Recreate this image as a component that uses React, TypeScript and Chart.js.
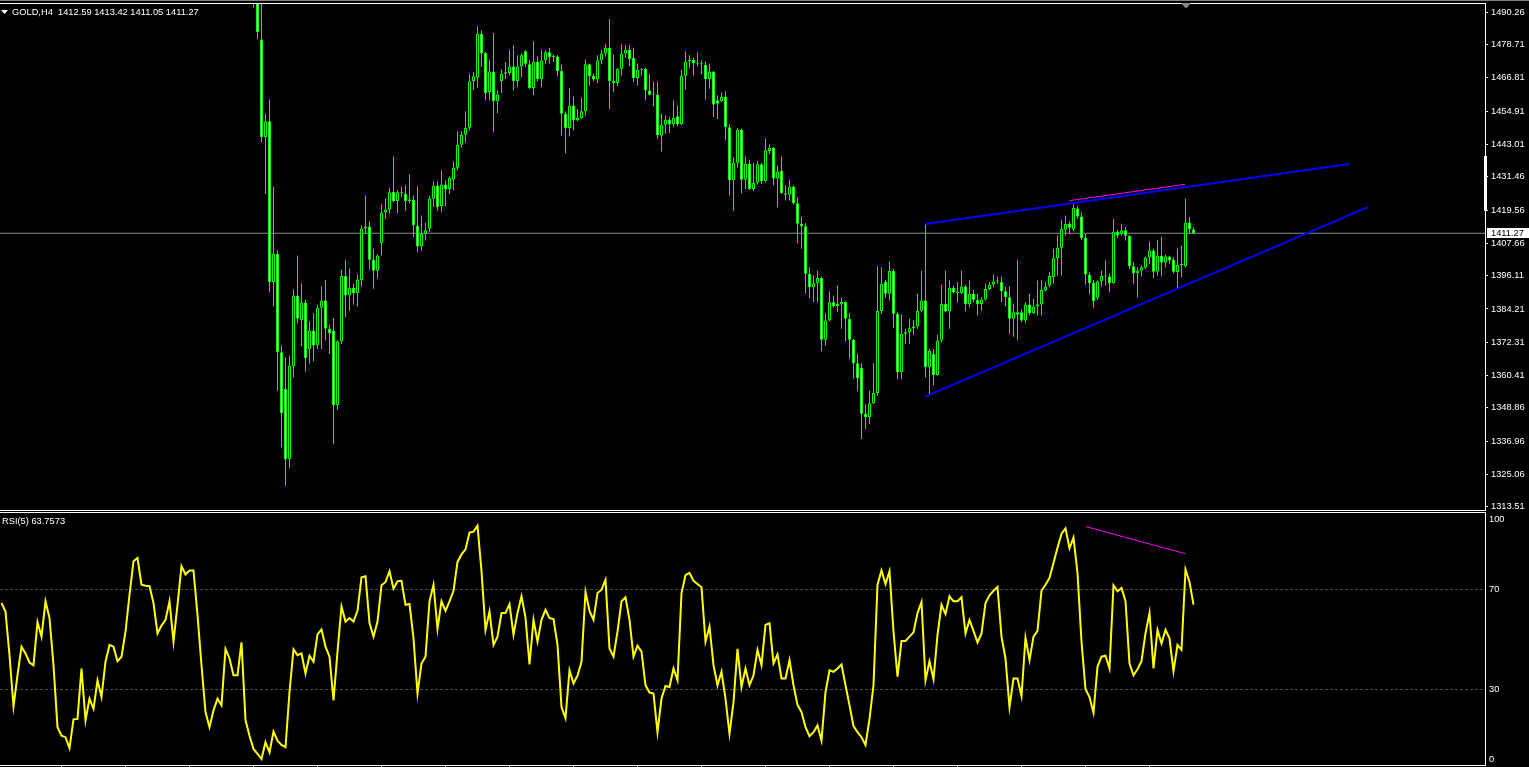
import React, { useEffect, useRef } from 'react';
import { Chart, registerables } from 'chart.js';

Chart.register(...registerables);

// ---------- data ----------
const symbolTitle = 'GOLD,H4  1412.59 1413.42 1411.05 1411.27';
const rsiTitle = 'RSI(5) 63.7573';
const FIRST_BAR = 63; // bar index of the first candle that reaches the visible price range

const opens = [
  1498.0, 1495.0, 1480.5, 1445.7, 1451.3, 1393.8, 1403.9, 1368.7, 1355.6, 1330.5,
  1363.7, 1389.0, 1380.3, 1386.5, 1369.8, 1376.5, 1371.1, 1384.6, 1387.2, 1377.1,
  1376.5, 1349.9, 1372.7, 1396.0, 1389.0, 1391.8, 1389.8, 1394.6, 1413.0, 1413.7,
  1401.8, 1397.9, 1407.7, 1418.7, 1419.7, 1426.1, 1422.8, 1425.9, 1425.4, 1422.8,
  1423.2, 1414.0, 1406.5, 1411.1, 1412.9, 1423.6, 1428.3, 1421.0, 1428.7, 1427.0,
  1430.4, 1434.7, 1442.9, 1446.5, 1449.0, 1465.6, 1466.9, 1482.6, 1475.7, 1461.8,
  1469.1, 1458.5, 1465.7, 1468.3, 1468.6, 1470.9, 1465.7, 1470.9, 1476.3, 1471.7,
  1463.2, 1472.6, 1466.4, 1473.1, 1476.0, 1474.3, 1474.5, 1469.3, 1454.0, 1448.9,
  1456.9, 1451.7, 1452.5, 1454.9, 1471.7, 1467.5, 1466.2, 1473.1, 1475.5, 1477.6,
  1465.7, 1465.0, 1470.1, 1475.5, 1476.9, 1474.0, 1466.8, 1469.7, 1470.0, 1462.3,
  1460.8, 1460.9, 1446.1, 1450.1, 1451.9, 1450.2, 1453.1, 1450.2, 1467.6, 1472.7,
  1473.3, 1472.1, 1471.9, 1471.5, 1466.4, 1469.1, 1458.8, 1458.5, 1460.1, 1449.2,
  1430.2, 1436.5, 1448.3, 1430.4, 1436.1, 1427.1, 1429.3, 1435.9, 1429.9, 1440.7,
  1441.8, 1430.8, 1433.6, 1425.6, 1425.0, 1428.0, 1422.0, 1414.7, 1413.8, 1396.8,
  1392.0, 1393.4, 1395.3, 1373.2, 1380.1, 1386.6, 1385.3, 1385.8, 1386.7, 1380.7,
  1373.2, 1364.8, 1363.1, 1346.7, 1345.5, 1350.5, 1354.2, 1383.5, 1393.9, 1389.6,
  1397.9, 1382.5, 1361.6, 1375.3, 1375.9, 1377.3, 1377.9, 1383.6, 1387.2, 1363.4,
  1368.1, 1360.6, 1372.9, 1386.0, 1383.3, 1391.8, 1390.2, 1389.9, 1392.2, 1386.0,
  1389.6, 1387.5, 1386.0, 1387.6, 1391.3, 1392.9, 1394.0, 1393.8, 1390.5, 1388.4,
  1380.7, 1383.0, 1383.0, 1380.1, 1385.8, 1382.7, 1385.1, 1385.8, 1390.8, 1392.6,
  1395.6, 1402.3, 1406.1, 1412.5, 1414.7, 1412.7, 1420.1, 1417.3, 1409.6, 1396.4,
  1393.6, 1388.2, 1394.1, 1396.0, 1395.8, 1393.4, 1411.8, 1411.1, 1412.3, 1410.4,
  1399.5, 1397.0, 1397.9, 1398.9, 1402.6, 1405.1, 1397.5, 1403.2, 1400.8, 1403.0,
  1401.8, 1397.4, 1399.9, 1399.5, 1415.1, 1412.59,
];

const highs = [
  1503.0, 1497.5, 1493.4, 1454.0, 1459.1, 1427.8, 1405.1, 1371.1, 1366.9, 1367.5,
  1391.2, 1403.3, 1393.4, 1387.5, 1379.8, 1382.7, 1385.8, 1392.2, 1394.6, 1378.6,
  1381.0, 1372.9, 1398.2, 1401.8, 1398.7, 1393.2, 1396.5, 1414.0, 1424.8, 1415.6,
  1405.7, 1403.7, 1421.6, 1423.6, 1427.5, 1438.7, 1426.6, 1428.0, 1428.4, 1432.3,
  1424.8, 1428.0, 1417.6, 1414.9, 1424.8, 1429.8, 1429.8, 1433.7, 1430.1, 1431.6,
  1436.8, 1447.7, 1447.7, 1454.9, 1468.1, 1468.9, 1485.2, 1483.8, 1476.1, 1473.3,
  1482.9, 1462.3, 1469.9, 1472.4, 1476.7, 1478.5, 1474.9, 1475.5, 1476.7, 1473.1,
  1479.9, 1474.5, 1476.7, 1476.7, 1477.6, 1475.2, 1474.9, 1471.7, 1454.9, 1463.1,
  1460.2, 1455.7, 1459.6, 1473.4, 1471.9, 1468.3, 1474.9, 1476.9, 1478.8, 1487.8,
  1475.2, 1470.3, 1478.8, 1478.5, 1478.5, 1477.6, 1471.9, 1470.3, 1470.4, 1468.1,
  1465.3, 1465.3, 1454.0, 1453.4, 1452.8, 1458.8, 1456.9, 1469.7, 1476.3, 1474.9,
  1474.0, 1476.0, 1473.1, 1472.7, 1471.9, 1469.3, 1460.6, 1461.6, 1462.0, 1450.2,
  1438.5, 1448.9, 1448.6, 1438.7, 1437.5, 1436.5, 1437.1, 1436.5, 1445.1, 1443.0,
  1442.1, 1435.5, 1438.7, 1428.4, 1430.4, 1428.4, 1424.2, 1417.3, 1414.9, 1399.1,
  1396.2, 1397.9, 1395.8, 1382.7, 1390.5, 1389.0, 1392.6, 1388.2, 1387.0, 1382.8,
  1373.5, 1368.1, 1364.8, 1350.0, 1355.0, 1364.8, 1399.4, 1399.1, 1394.6, 1401.2,
  1398.5, 1383.0, 1382.2, 1377.1, 1380.7, 1380.3, 1389.6, 1397.9, 1414.4, 1369.9,
  1369.9, 1374.9, 1392.9, 1397.9, 1394.4, 1392.6, 1393.8, 1397.9, 1392.9, 1394.4,
  1391.0, 1389.6, 1388.4, 1393.2, 1393.8, 1396.5, 1395.8, 1395.8, 1392.2, 1392.2,
  1386.0, 1401.8, 1384.2, 1386.6, 1389.6, 1387.8, 1394.4, 1394.4, 1393.8, 1397.3,
  1405.7, 1410.5, 1416.1, 1417.6, 1415.6, 1421.6, 1420.9, 1418.8, 1411.1, 1397.3,
  1394.6, 1394.4, 1397.9, 1401.6, 1396.8, 1416.4, 1412.5, 1414.7, 1413.5, 1410.6,
  1400.9, 1399.1, 1399.7, 1403.0, 1408.1, 1405.7, 1408.9, 1410.0, 1403.7, 1403.2,
  1402.7, 1405.7, 1406.9, 1423.6, 1417.0, 1413.42,
];

const lows = [
  1491.9, 1480.8, 1443.9, 1425.4, 1390.2, 1385.1, 1355.0, 1334.7, 1321.1, 1327.3,
  1359.8, 1379.1, 1370.9, 1361.8, 1364.6, 1365.5, 1369.9, 1369.9, 1372.9, 1368.1,
  1335.9, 1348.2, 1371.7, 1381.3, 1383.6, 1385.8, 1385.1, 1392.2, 1411.1, 1398.2,
  1391.4, 1395.0, 1403.3, 1416.4, 1418.2, 1422.4, 1418.5, 1424.2, 1419.2, 1422.0,
  1409.9, 1404.5, 1405.1, 1408.7, 1411.7, 1420.6, 1419.2, 1418.8, 1420.9, 1425.4,
  1426.6, 1433.7, 1441.8, 1443.5, 1448.0, 1462.6, 1463.3, 1470.7, 1458.8, 1458.8,
  1447.4, 1454.3, 1461.4, 1466.4, 1467.7, 1462.3, 1463.5, 1467.1, 1470.7, 1462.9,
  1460.6, 1465.5, 1463.5, 1471.9, 1471.9, 1472.5, 1467.4, 1446.3, 1439.9, 1445.9,
  1448.0, 1451.4, 1452.2, 1453.4, 1464.1, 1465.6, 1465.0, 1471.7, 1474.5, 1455.7,
  1461.8, 1463.8, 1467.7, 1474.0, 1471.1, 1465.3, 1464.1, 1467.7, 1458.8, 1460.6,
  1456.6, 1445.1, 1440.5, 1446.8, 1447.1, 1449.2, 1449.5, 1450.0, 1462.7, 1470.3,
  1467.7, 1470.9, 1468.1, 1459.1, 1462.9, 1452.8, 1452.1, 1458.2, 1444.5, 1424.8,
  1419.2, 1434.7, 1425.6, 1427.1, 1426.8, 1426.3, 1428.7, 1428.9, 1429.5, 1439.7,
  1428.4, 1420.6, 1425.4, 1423.0, 1423.0, 1421.6, 1407.7, 1405.7, 1389.8, 1388.0,
  1386.6, 1386.6, 1369.1, 1371.1, 1379.8, 1384.6, 1383.0, 1377.1, 1372.7, 1366.4,
  1359.2, 1354.8, 1337.7, 1341.3, 1343.1, 1350.2, 1353.2, 1382.5, 1388.2, 1387.2,
  1377.4, 1359.2, 1359.2, 1371.7, 1371.7, 1375.1, 1377.1, 1383.0, 1359.8, 1353.6,
  1356.8, 1360.4, 1372.3, 1383.0, 1377.1, 1389.8, 1386.6, 1389.6, 1383.4, 1384.8,
  1386.6, 1381.9, 1383.6, 1387.2, 1391.0, 1392.0, 1393.2, 1386.6, 1385.1, 1375.3,
  1374.3, 1372.9, 1379.5, 1379.1, 1381.9, 1382.5, 1381.9, 1381.9, 1390.5, 1392.0,
  1393.2, 1396.2, 1396.2, 1410.5, 1411.1, 1412.0, 1416.4, 1408.9, 1392.9, 1389.6,
  1384.6, 1387.5, 1392.2, 1392.6, 1390.2, 1393.2, 1409.6, 1410.5, 1408.7, 1398.5,
  1393.2, 1388.4, 1395.8, 1398.5, 1400.3, 1395.3, 1396.2, 1395.8, 1399.1, 1400.3,
  1397.0, 1391.4, 1395.6, 1399.1, 1411.1, 1411.05,
];

const closes = [
  1495.0, 1483.2, 1445.7, 1451.3, 1393.8, 1403.9, 1368.7, 1346.9, 1330.5, 1364.0,
  1389.0, 1380.7, 1386.5, 1366.6, 1376.5, 1371.1, 1384.6, 1387.2, 1377.1, 1375.5,
  1349.9, 1372.7, 1396.0, 1389.0, 1391.8, 1389.8, 1394.7, 1413.0, 1413.7, 1401.8,
  1397.9, 1403.3, 1418.7, 1419.8, 1425.9, 1422.8, 1425.9, 1425.6, 1422.8, 1423.3,
  1414.1, 1406.5, 1411.1, 1412.3, 1423.6, 1428.3, 1420.6, 1428.7, 1427.0, 1431.1,
  1434.7, 1442.9, 1446.5, 1449.0, 1465.6, 1467.4, 1482.6, 1475.5, 1461.4, 1469.1,
  1458.5, 1460.9, 1468.3, 1468.8, 1470.9, 1465.7, 1470.9, 1474.9, 1471.9, 1463.2,
  1472.6, 1466.4, 1473.1, 1476.0, 1474.3, 1474.5, 1469.3, 1454.0, 1448.9, 1456.9,
  1451.7, 1452.6, 1454.9, 1471.7, 1467.5, 1466.2, 1473.1, 1475.5, 1477.6, 1465.7,
  1465.0, 1470.1, 1475.5, 1476.9, 1473.6, 1466.8, 1469.7, 1470.0, 1462.3, 1460.8,
  1460.9, 1446.4, 1450.1, 1451.9, 1450.2, 1452.6, 1450.2, 1467.6, 1472.7, 1473.3,
  1472.1, 1471.9, 1472.0, 1466.4, 1469.1, 1457.2, 1457.6, 1460.1, 1449.2, 1430.2,
  1436.5, 1448.3, 1430.4, 1436.1, 1427.1, 1429.3, 1435.9, 1429.9, 1440.9, 1441.8,
  1430.8, 1433.3, 1425.6, 1425.0, 1428.0, 1422.0, 1414.7, 1413.8, 1396.8, 1392.0,
  1393.4, 1395.3, 1373.2, 1380.1, 1386.6, 1385.3, 1386.0, 1386.7, 1380.7, 1373.2,
  1364.8, 1359.4, 1346.7, 1345.5, 1350.5, 1354.2, 1383.5, 1393.2, 1389.6, 1397.9,
  1382.5, 1361.6, 1375.3, 1375.9, 1377.3, 1377.9, 1383.6, 1387.2, 1363.4, 1369.3,
  1360.6, 1372.9, 1386.0, 1383.3, 1391.8, 1390.2, 1389.9, 1392.2, 1386.0, 1389.6,
  1387.5, 1386.0, 1387.6, 1391.3, 1392.9, 1394.0, 1394.4, 1390.5, 1388.4, 1380.7,
  1383.0, 1382.1, 1380.1, 1385.8, 1382.7, 1385.1, 1385.8, 1391.0, 1392.2, 1396.0,
  1402.3, 1406.1, 1412.9, 1414.7, 1413.2, 1420.4, 1417.3, 1409.6, 1396.5, 1393.4,
  1387.0, 1394.1, 1396.0, 1395.8, 1393.4, 1411.8, 1410.5, 1412.3, 1410.4, 1399.5,
  1397.0, 1397.9, 1399.1, 1402.6, 1405.1, 1397.5, 1403.2, 1400.8, 1403.0, 1401.5,
  1397.5, 1399.9, 1400.0, 1415.1, 1412.7, 1411.27,
];

// RSI(5), one value per bar from bar 0
const rsiValues = [
  64.4, 61.0, 43.6, 23.2, 35.6, 47.0, 44.3, 40.7, 39.6, 56.8,
  51.0, 65.1, 58.4, 39.6, 14.9, 11.5, 10.9, 6.5, 18.0, 18.2,
  38.3, 17.6, 26.3, 22.2, 33.6, 26.9, 41.0, 47.7, 47.0, 41.2,
  43.0, 53.0, 67.7, 81.1, 82.4, 71.7, 71.3, 71.1, 64.4, 52.3,
  55.4, 57.7, 65.1, 49.0, 63.7, 79.1, 75.8, 77.4, 77.4, 59.7,
  39.6, 20.9, 14.9, 21.6, 26.3, 23.6, 46.1, 42.3, 35.6, 35.6,
  48.7, 17.6, 11.5, 6.2, 4.2, 2.2, 8.9, 4.8, 13.1, 9.5,
  7.8, 6.9, 28.9, 45.9, 43.6, 44.3, 36.3, 43.4, 41.0, 51.9,
  53.9, 47.0, 43.0, 25.6, 45.0, 63.0, 57.0, 58.4, 57.0, 61.3,
  74.7, 75.1, 56.4, 51.0, 57.0, 71.5, 72.8, 77.1, 70.1, 73.1,
  73.3, 63.7, 64.0, 50.3, 28.3, 40.3, 43.0, 65.1, 71.7, 54.1,
  65.1, 61.3, 65.1, 69.3, 80.8, 83.8, 85.8, 92.5, 92.9, 95.3,
  77.1, 53.7, 61.0, 47.7, 51.0, 60.4, 60.4, 64.0, 51.7, 60.4,
  67.1, 58.6, 39.9, 57.7, 49.0, 57.7, 61.7, 58.4, 58.0, 47.7,
  22.9, 18.5, 37.6, 32.3, 35.4, 41.0, 68.8, 61.3, 57.7, 68.4,
  69.7, 73.7, 46.3, 43.0, 53.0, 65.1, 66.7, 57.7, 43.0, 47.4,
  45.0, 31.6, 28.7, 28.3, 12.9, 26.3, 31.3, 30.9, 38.3, 33.6,
  68.4, 75.5, 76.4, 73.3, 72.0, 70.7, 49.0, 55.0, 39.6, 31.6,
  37.0, 26.3, 12.2, 24.9, 46.1, 30.9, 38.3, 31.6, 35.6, 45.7,
  39.6, 55.7, 56.4, 40.3, 43.9, 34.3, 34.3, 41.6, 31.6, 23.8,
  20.9, 14.9, 11.3, 12.9, 15.6, 9.5, 28.9, 37.6, 37.0, 38.3,
  39.9, 31.6, 23.6, 15.3, 12.9, 10.9, 7.8, 18.2, 31.6, 71.7,
  77.4, 72.0, 77.1, 53.0, 35.0, 49.3, 49.3, 51.0, 52.7, 60.4,
  64.8, 33.6, 41.2, 34.0, 51.7, 63.7, 60.0, 67.1, 65.1, 65.1,
  66.7, 52.3, 57.7, 53.3, 48.7, 52.3, 64.4, 67.5, 69.3, 70.8,
  51.0, 42.3, 22.9, 34.3, 34.3, 27.3, 50.6, 41.6, 51.0, 53.3,
  69.3, 71.7, 74.4, 80.4, 86.5, 92.1, 94.2, 86.2, 90.5, 76.4,
  49.0, 30.0, 26.9, 20.6, 39.0, 43.0, 43.4, 38.3, 71.5, 69.1,
  70.4, 65.1, 40.3, 35.6, 38.0, 41.2, 52.3, 60.4, 38.3, 53.7,
  48.3, 53.7, 50.3, 37.2, 47.7, 45.7, 77.8, 72.8, 63.76,
];

const priceTicks = [
  1490.26, 1478.71, 1466.81, 1454.91, 1443.01, 1431.46, 1419.56, 1407.66,
  1396.11, 1384.21, 1372.31, 1360.41, 1348.86, 1336.96, 1325.06, 1313.51,
];
const rsiTicks = [0, 30, 70, 100];
const rsiLevels = [30, 70];
const bidPrice = 1411.27;

// hand-drawn objects (bar index, value)
const upperTrend = [{ x: 230.95, y: 1414.58 }, { x: 336.9, y: 1436.03 }];
const lowerTrend = [{ x: 230.95, y: 1352.84 }, { x: 341.6, y: 1420.59 }];
const priceDivergence = [{ x: 266.95, y: 1422.91 }, { x: 295.9, y: 1428.77 }];
const rsiDivergence = [{ x: 271.1, y: 94.9 }, { x: 295.95, y: 84.1 }];

// ---------- view settings ----------
const X_MIN = -0.375;
const X_MAX = 370.875;
const PRICE_MIN = 1312.33;
const PRICE_MAX = 1493.23;
const FONT_FAMILY = '"Liberation Sans", Arial, sans-serif';
const FONT_SIZE = 9.3;
const LIME = '#00ff00';

function mainConfig(): any {
  const bodies = opens.map((o, i) => ({ x: FIRST_BAR + i, y: [o, closes[i]] }));
  const wicks = lows.map((l, i) => ({ x: FIRST_BAR + i, y: [l, highs[i]] }));
  const bodyColors = opens.map((o, i) => (closes[i] < o ? '#ffffff' : '#000000'));
  const bidLine = [{ x: X_MIN, y: bidPrice }, { x: X_MAX, y: bidPrice }];

  const decor = {
    id: 'mainDecor',
    afterDraw(chart: any) {
      const ctx = chart.ctx;
      const yScale = chart.scales.y;
      ctx.save();
      // frame
      ctx.fillStyle = '#808080';
      ctx.fillRect(0, 0, 1529, 1);
      ctx.fillStyle = '#ffffff';
      ctx.fillRect(0, 3, 1486, 1);
      ctx.fillRect(1485, 3, 1, 508);
      ctx.fillRect(0, 510, 1486, 1);
      ctx.fillRect(1484, 156, 3, 55);
      // chart-shift marker
      ctx.fillStyle = '#8a8a8a';
      ctx.beginPath();
      ctx.moveTo(1181, 3);
      ctx.lineTo(1191, 3);
      ctx.lineTo(1186, 8.5);
      ctx.closePath();
      ctx.fill();
      // header
      ctx.fillStyle = '#ffffff';
      ctx.beginPath();
      ctx.moveTo(1, 10);
      ctx.lineTo(8, 10);
      ctx.lineTo(4.5, 14);
      ctx.closePath();
      ctx.fill();
      ctx.font = `${FONT_SIZE}px ${FONT_FAMILY}`;
      ctx.textBaseline = 'middle';
      ctx.textAlign = 'left';
      ctx.fillText(symbolTitle, 12, 12.5);
      // bid price label
      const y = yScale.getPixelForValue(bidPrice);
      ctx.fillStyle = '#ffffff';
      ctx.fillRect(1487, Math.round(y) - 5, 42, 10);
      ctx.fillStyle = '#000000';
      ctx.fillText(bidPrice.toFixed(2), 1491, Math.round(y) + 0.5);
      ctx.restore();
    },
  };

  return {
    type: 'bar',
    data: {
      datasets: [
        { type: 'line', data: upperTrend, borderColor: '#0000ff', borderWidth: 2, pointRadius: 0, order: 0 },
        { type: 'line', data: lowerTrend, borderColor: '#0000ff', borderWidth: 2, pointRadius: 0, order: 0 },
        { type: 'line', data: priceDivergence, borderColor: '#ff00ff', borderWidth: 1, pointRadius: 0, order: 0 },
        {
          type: 'bar', data: bodies, backgroundColor: bodyColors, borderColor: LIME, borderWidth: 1,
          borderSkipped: false, barThickness: 3, minBarLength: 1, grouped: false, inflateAmount: 0, order: 1,
        },
        {
          type: 'bar', data: wicks, backgroundColor: LIME, borderWidth: 0, barThickness: 1,
          grouped: false, inflateAmount: 0, order: 2,
        },
        { type: 'line', data: bidLine, borderColor: '#8c8c8c', borderWidth: 1, pointRadius: 0, order: 5 },
      ],
    },
    options: {
      animation: false,
      responsive: false,
      devicePixelRatio: 1,
      events: [],
      layout: { padding: { top: 4, bottom: 1, left: 0, right: 0 } },
      plugins: { legend: { display: false }, tooltip: { enabled: false }, title: { display: false } },
      scales: {
        x: { type: 'linear', min: X_MIN, max: X_MAX, display: false, offset: false },
        y: {
          type: 'linear',
          position: 'right',
          min: PRICE_MIN,
          max: PRICE_MAX,
          afterBuildTicks: (s: any) => { s.ticks = priceTicks.map((v) => ({ value: v })); },
          afterFit: (s: any) => { s.width = 44; s.paddingTop = 0; s.paddingBottom = 0; },
          ticks: {
            color: '#ffffff',
            font: { family: FONT_FAMILY, size: FONT_SIZE },
            padding: 3,
            autoSkip: false,
            callback: (v: any) => Number(v).toFixed(2),
          },
          grid: { drawOnChartArea: false, drawTicks: true, tickLength: 3, color: '#ffffff' },
          border: { display: false },
        },
      },
    },
    plugins: [decor],
  };
}

function rsiConfig(): any {
  const decor = {
    id: 'rsiDecor',
    afterDraw(chart: any) {
      const ctx = chart.ctx;
      const xScale = chart.scales.x;
      ctx.save();
      ctx.fillStyle = '#ffffff';
      ctx.fillRect(0, 1, 1486, 1);
      ctx.fillRect(0, 254, 1486, 1);
      ctx.fillRect(1485, 1, 1, 254);
      for (let k = 15; k < rsiValues.length; k += 16) {
        ctx.fillRect(Math.floor(xScale.getPixelForValue(k)), 255, 1, 1);
      }
      ctx.font = `${FONT_SIZE}px ${FONT_FAMILY}`;
      ctx.textBaseline = 'middle';
      ctx.textAlign = 'left';
      ctx.fillText(rsiTitle, 2, 10.5);
      ctx.restore();
    },
  };

  return {
    type: 'line',
    data: {
      datasets: [
        { data: rsiDivergence, borderColor: '#ff00ff', borderWidth: 1, pointRadius: 0, order: 0 },
        {
          data: rsiValues.map((v, i) => ({ x: i, y: v })),
          borderColor: '#ffff00', borderWidth: 2, pointRadius: 0, tension: 0, order: 1,
        },
      ],
    },
    options: {
      animation: false,
      responsive: false,
      devicePixelRatio: 1,
      events: [],
      layout: { padding: { top: 2.8, bottom: 2.5, left: 0, right: 0 } },
      plugins: { legend: { display: false }, tooltip: { enabled: false }, title: { display: false } },
      scales: {
        x: { type: 'linear', min: X_MIN, max: X_MAX, display: false, offset: false },
        y: {
          type: 'linear',
          position: 'right',
          min: 0,
          max: 100,
          afterBuildTicks: (s: any) => { s.ticks = rsiTicks.map((v) => ({ value: v })); },
          afterFit: (s: any) => { s.width = 44; s.paddingTop = 0; s.paddingBottom = 0; },
          ticks: {
            color: '#ffffff',
            font: { family: FONT_FAMILY, size: FONT_SIZE, lineHeight: '11px' },
            padding: 4,
            autoSkip: false,
            callback: (v: any) => (v === 100 ? ['', '100'] : v === 0 ? ['0', ''] : String(v)),
          },
          grid: {
            drawTicks: false,
            color: (c: any) => (c.tick && rsiLevels.includes(c.tick.value) ? '#4a4a4a' : 'rgba(0,0,0,0)'),
          },
          border: { display: false, dash: [3, 2] },
        },
      },
    },
    plugins: [decor],
  };
}

export default function App() {
  const mainRef = useRef<HTMLCanvasElement>(null);
  const rsiRef = useRef<HTMLCanvasElement>(null);

  useEffect(() => {
    document.body.style.margin = '0';
    document.body.style.background = '#000';
    const main = new Chart(mainRef.current as HTMLCanvasElement, mainConfig());
    const rsi = new Chart(rsiRef.current as HTMLCanvasElement, rsiConfig());
    return () => {
      main.destroy();
      rsi.destroy();
    };
  }, []);

  return (
    <div style={{ position: 'fixed', left: 0, top: 0, width: 1529, height: 767, background: '#000', overflow: 'hidden' }}>
      <canvas
        ref={mainRef}
        width={1529}
        height={511}
        style={{ position: 'absolute', left: 0, top: 0, width: 1529, height: 511 }}
      />
      <canvas
        ref={rsiRef}
        width={1529}
        height={256}
        style={{ position: 'absolute', left: 0, top: 511, width: 1529, height: 256 }}
      />
    </div>
  );
}
